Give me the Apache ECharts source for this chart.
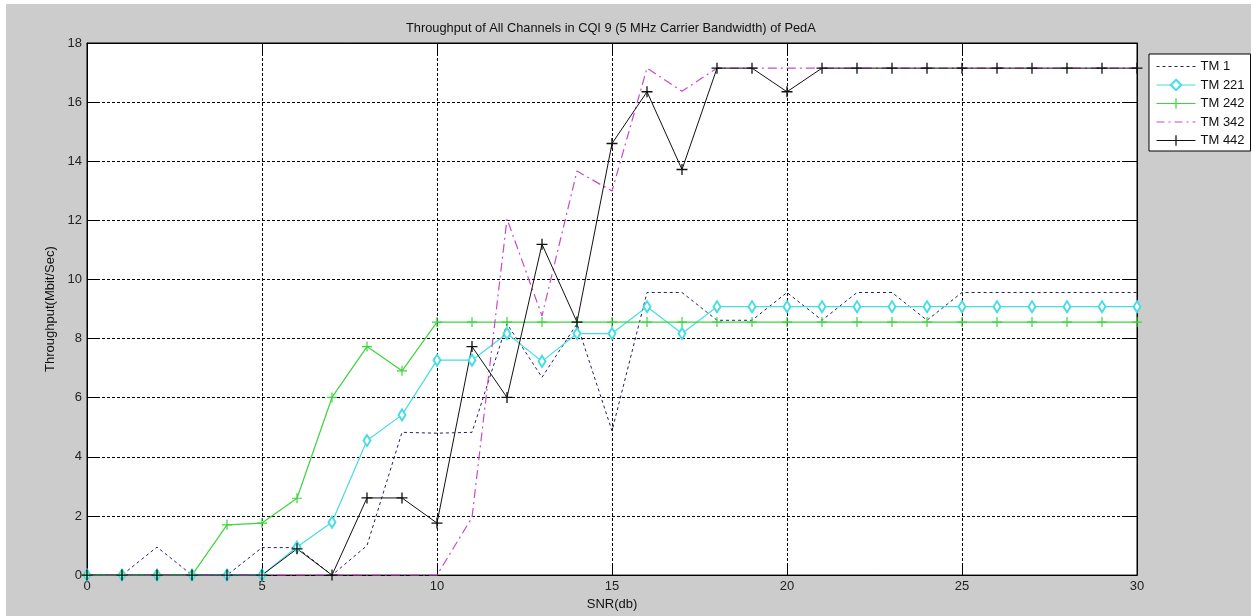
<!DOCTYPE html>
<html>
<head>
<meta charset="utf-8">
<script src="https://cdn.jsdelivr.net/npm/echarts@6/dist/echarts.min.js"></script>
<style>
html,body{margin:0;padding:0;background:#ffffff;}
#chart{position:absolute;left:6px;top:4px;width:1245px;height:612px;background:#cccccc;}
</style>
</head>
<body>
<div id="chart"></div>
<script>
var snr = [0,1,2,3,4,5,6,7,8,9,10,11,12,13,14,15,16,17,18,19,20,21,22,23,24,25,26,27,28,29,30];
var tm1   = [0,0,0.95,0,0,0.93,0.93,0,1.0,4.83,4.8,4.83,8.5,6.69,8.5,4.88,9.56,9.56,8.62,8.62,9.56,8.62,9.56,9.56,8.62,9.56,9.56,9.56,9.56,9.56,9.56];
var tm221 = [0,0,0,0,0,0,0.95,1.79,4.55,5.42,7.27,7.27,8.17,7.23,8.17,8.17,9.08,8.17,9.08,9.08,9.08,9.08,9.08,9.08,9.08,9.08,9.08,9.08,9.08,9.08,9.08];
var tm242 = [0,0,0,0,1.70,1.76,2.6,6.01,7.73,6.91,8.56,8.56,8.56,8.56,8.56,8.56,8.56,8.56,8.56,8.56,8.56,8.56,8.56,8.56,8.56,8.56,8.56,8.56,8.56,8.56,8.56];
var tm342 = [0,0,0,0,0,0,0,0,0,0,0,1.95,12.05,8.77,13.67,12.99,17.15,16.37,17.15,17.15,17.15,17.15,17.15,17.15,17.15,17.15,17.15,17.15,17.15,17.15,17.15];
var tm442 = [0,0,0,0,0,0,0.89,0,2.61,2.61,1.76,7.73,6.01,11.19,8.56,14.6,16.35,13.72,17.15,17.15,16.35,17.15,17.15,17.15,17.15,17.15,17.15,17.15,17.15,17.15,17.15];
var seriesNames = ['TM 1','TM 221','TM 242','TM 342','TM 442'];
var titleText = 'Throughput of All Channels in CQI 9 (5 MHz Carrier Bandwidth) of PedA';
var xName = 'SNR(db)';
var yName = 'Throughput(Mbit/Sec)';

function pairs(arr){ return arr.map(function(v,i){ return [snr[i], v]; }); }
var plus = 'path://M4.4,0H5.6V4.4H10V5.6H5.6V10H4.4V5.6H0V4.4H4.4Z';
var dottedIcon = 'path://M0,0H3V1H0Z M6,0H9V1H6Z M12,0H15V1H12Z M18,0H21V1H18Z M24,0H27V1H24Z M30,0H33V1H30Z M36,0H39V1H36Z';
var dashDotIcon = 'path://M0,0H8V1.2H0Z M12,0H14V1.2H12Z M18,0H26V1.2H18Z M30,0H32V1.2H30Z M36,0H39V1.2H36Z';
var font = 'Liberation Sans, Arial, sans-serif';

var chart = echarts.init(document.getElementById('chart'), null, {renderer:'canvas'});
var gridLine = {show:true, lineStyle:{color:'#000', type:[3,2], width:1}};
var tick = {show:true, inside:true, length:12, lineStyle:{color:'#000'}};
var axLine = {show:true, onZero:false, lineStyle:{color:'#000', width:1}};
var option = {
  animation:false,
  backgroundColor:'#cccccc',
  textStyle:{fontFamily:font},
  title:{text:titleText, left:400, top:18, padding:0, textStyle:{fontFamily:font, fontSize:12.8, fontWeight:'normal', color:'#111'}},
  grid:{left:81, right:114, top:39, bottom:40, show:true, backgroundColor:'#ffffff', borderColor:'#000', borderWidth:1, containLabel:false},
  legend:{
    orient:'vertical', left:1143, top:50, padding:[6,6,4,7], itemGap:5.5, itemWidth:39, itemHeight:13,
    backgroundColor:'#ffffff', borderColor:'#000', borderWidth:1, borderRadius:0,
    lineStyle:{width:1},
    textStyle:{fontFamily:font, fontSize:13, color:'#111'},
    data:[
      {name:seriesNames[0], icon:dottedIcon},
      {name:seriesNames[1]},
      {name:seriesNames[2]},
      {name:seriesNames[3], icon:dashDotIcon},
      {name:seriesNames[4]}
    ]
  },
  xAxis:[{
    type:'value', min:0, max:30, interval:5, position:'bottom',
    name:xName, nameLocation:'middle', nameGap:19, nameTextStyle:{fontFamily:font, fontSize:13, color:'#111'},
    axisLine:axLine, axisTick:tick,
    axisLabel:{fontFamily:font, fontSize:13, color:'#222', margin:5},
    splitLine:gridLine
  },{
    type:'value', min:0, max:30, interval:5, position:'top',
    axisLine:axLine, axisTick:tick,
    axisLabel:{show:false}, splitLine:{show:false}
  }],
  yAxis:[{
    type:'value', min:0, max:18, interval:2, position:'left',
    name:yName, nameLocation:'middle', nameGap:21, nameRotate:90, nameTextStyle:{fontFamily:font, fontSize:13, color:'#111'},
    axisLine:axLine, axisTick:tick,
    axisLabel:{fontFamily:font, fontSize:13, color:'#222', margin:5},
    splitLine:gridLine
  },{
    type:'value', min:0, max:18, interval:2, position:'right',
    axisLine:axLine, axisTick:tick,
    axisLabel:{show:false}, splitLine:{show:false}
  }],
  series:[
    {name:seriesNames[0], type:'line', data:pairs(tm1), showSymbol:false, symbol:'none',
     lineStyle:{color:'#202068', width:1, type:[3,3]}, itemStyle:{color:'#202068'}},
    {name:seriesNames[1], type:'line', data:pairs(tm221), symbol:'emptyDiamond', symbolSize:[7,11], showAllSymbol:true,
     lineStyle:{color:'#45dde3', width:1.2}, itemStyle:{color:'#45dde3', borderColor:'#45dde3', borderWidth:1}},
    {name:seriesNames[2], type:'line', data:pairs(tm242), symbol:plus, symbolSize:10, showAllSymbol:true,
     lineStyle:{color:'#3ad63a', width:1.2}, itemStyle:{color:'#3ad63a'}},
    {name:seriesNames[3], type:'line', data:pairs(tm342), showSymbol:false, symbol:'none',
     lineStyle:{color:'#c84ac8', width:1.2, type:[9,4,2,4]}, itemStyle:{color:'#c84ac8'}},
    {name:seriesNames[4], type:'line', data:pairs(tm442), symbol:plus, symbolSize:11, showAllSymbol:true,
     lineStyle:{color:'#111111', width:1}, itemStyle:{color:'#111111'}}
  ]
};
chart.setOption(option);
</script>
</body>
</html>
